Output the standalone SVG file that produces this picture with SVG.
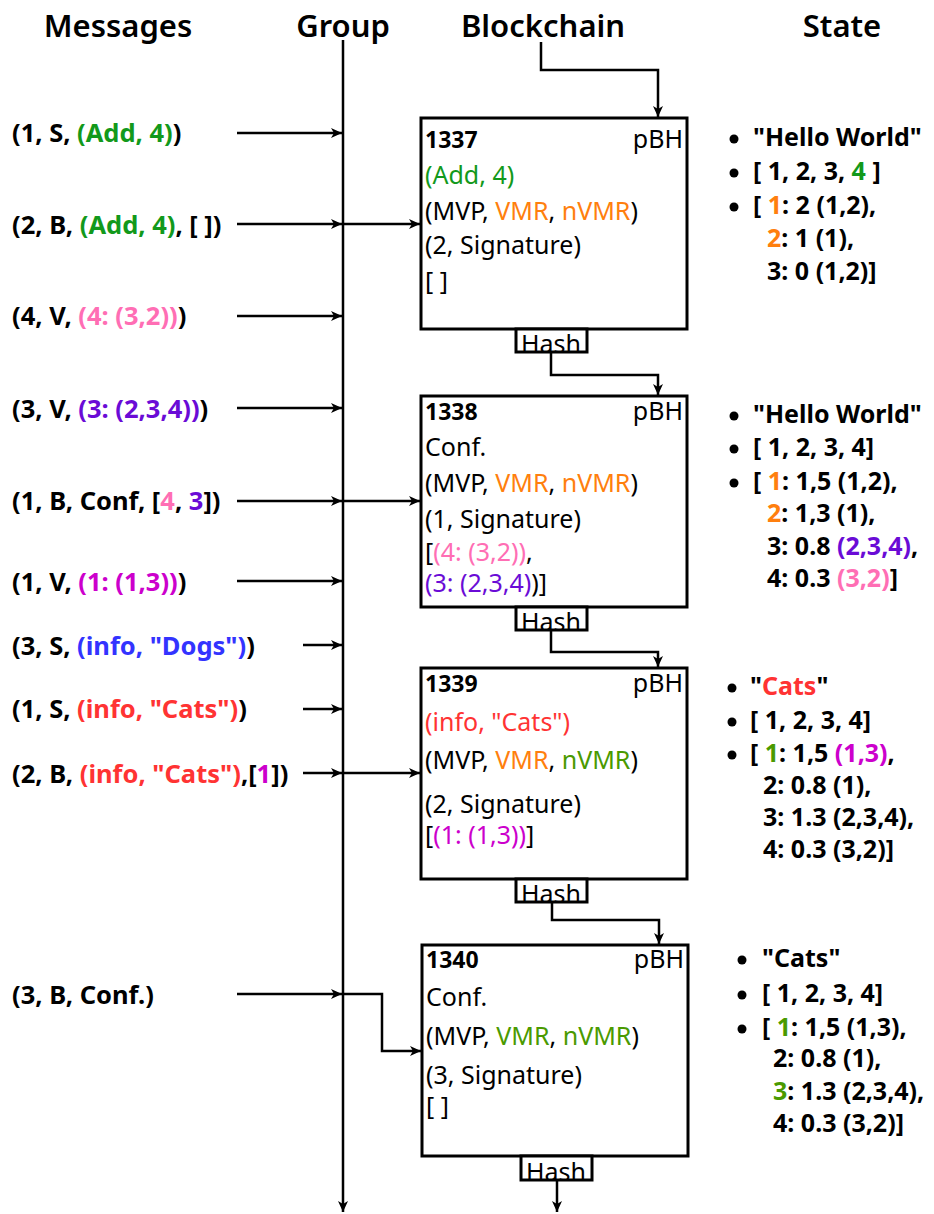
<svg xmlns="http://www.w3.org/2000/svg" width="934" height="1214" viewBox="0 0 934 1214">
<defs>
<marker id="ah" markerUnits="userSpaceOnUse" markerWidth="12" markerHeight="10" refX="11" refY="5" orient="auto">
<path d="M0,0 L11,5 L0,10 L3,5 z" fill="#000"/>
</marker>
<style>
text{font-family:"Noto Sans","Open Sans","DejaVu Sans",sans-serif;fill:#000}
.hd{font-size:31px;font-weight:600}
.msg{font-size:25.5px;font-weight:700}
.bx{font-size:25px}
.num{font-size:23px;font-weight:700}
.st{font-size:25px;font-weight:700}
.hash{font-size:25px}
.box{fill:#fff;stroke:#000;stroke-width:3}
.con{fill:none;stroke:#000;stroke-width:2.5}
.g{fill:#12991b}.o{fill:#ff7f0e}.pk{fill:#ff6eb4}.pu{fill:#6a0bd6}.mg{fill:#cc00cc}.bl{fill:#3333ff}.rd{fill:#ff3333}.lg{fill:#4a9a00}
</style>
</defs>
<rect width="934" height="1214" fill="#fff"/>
<g id="headers">
<text class="hd" x="118" y="37" text-anchor="middle">Messages</text>
<text class="hd" x="343" y="37" text-anchor="middle">Group</text>
<text class="hd" x="543" y="37" text-anchor="middle">Blockchain</text>
<text class="hd" x="842" y="37" text-anchor="middle">State</text>
</g>
<g id="connectors">
<path class="con" d="M343,40 V1212" marker-end="url(#ah)"/>
<path class="con" d="M541,42 V70 H658 V117" marker-end="url(#ah)"/>
<path class="con" d="M237,133 H342" marker-end="url(#ah)"/>
<path class="con" d="M237,224 H342" marker-end="url(#ah)"/>
<path class="con" d="M343,224 H420" marker-end="url(#ah)"/>
<path class="con" d="M237,316 H342" marker-end="url(#ah)"/>
<path class="con" d="M237,408 H342" marker-end="url(#ah)"/>
<path class="con" d="M237,501 H342" marker-end="url(#ah)"/>
<path class="con" d="M343,501 H420" marker-end="url(#ah)"/>
<path class="con" d="M237,581 H342" marker-end="url(#ah)"/>
<path class="con" d="M303,645 H342" marker-end="url(#ah)"/>
<path class="con" d="M303,709 H342" marker-end="url(#ah)"/>
<path class="con" d="M303,773 H342" marker-end="url(#ah)"/>
<path class="con" d="M343,773 H420" marker-end="url(#ah)"/>
<path class="con" d="M237,994 H342" marker-end="url(#ah)"/>
<path class="con" d="M343,994 H382 V1051 H421" marker-end="url(#ah)"/>
<path class="con" d="M551,352 V375 H658 V395" marker-end="url(#ah)"/>
<path class="con" d="M551,630 V652 H658 V667" marker-end="url(#ah)"/>
<path class="con" d="M552,902 V920 H659 V944" marker-end="url(#ah)"/>
<path class="con" d="M557,1180 V1212" marker-end="url(#ah)"/>
</g>
<g id="messages">
<text class="msg" x="12" y="142">(1, S, <tspan class="g">(Add, 4)</tspan>)</text>
<text class="msg" x="12" y="234">(2, B, <tspan class="g">(Add, 4)</tspan>, [ ])</text>
<text class="msg" x="12" y="325">(4, V, <tspan class="pk">(4: (3,2))</tspan>)</text>
<text class="msg" x="12" y="418">(3, V, <tspan class="pu">(3: (2,3,4))</tspan>)</text>
<text class="msg" x="12" y="510">(1, B, Conf, [<tspan class="pk">4</tspan>, <tspan class="pu">3</tspan>])</text>
<text class="msg" x="12" y="591">(1, V, <tspan class="mg">(1: (1,3))</tspan>)</text>
<text class="msg" x="12" y="655">(3, S, <tspan class="bl">(info, "Dogs")</tspan>)</text>
<text class="msg" x="12" y="718">(1, S, <tspan class="rd">(info, "Cats")</tspan>)</text>
<text class="msg" x="12" y="783">(2, B, <tspan class="rd">(info, "Cats")</tspan>,[<tspan class="mg">1</tspan>])</text>
<text class="msg" x="12" y="1004">(3, B, Conf.)</text>
</g>
<g id="block1337">
<rect class="box" x="421" y="118" width="266" height="211"/>
<text class="num" x="425" y="148">1337</text>
<text class="bx" x="683" y="148" text-anchor="end">pBH</text>
<text class="bx g" x="425" y="184">(Add, 4)</text>
<text class="bx" x="425" y="220">(MVP, <tspan class="o">VMR</tspan>, <tspan class="o">nVMR</tspan>)</text>
<text class="bx" x="425" y="254">(2, Signature)</text>
<text class="bx" x="425" y="290">[ ]</text>
<rect class="box" x="516" y="329" width="71" height="23"/>
<text class="hash" x="551" y="353" text-anchor="middle">Hash</text>
</g>
<g id="block1338">
<rect class="box" x="421" y="396" width="266" height="211"/>
<text class="num" x="425" y="420">1338</text>
<text class="bx" x="683" y="420" text-anchor="end">pBH</text>
<text class="bx" x="425" y="456">Conf.</text>
<text class="bx" x="425" y="492">(MVP, <tspan class="o">VMR</tspan>, <tspan class="o">nVMR</tspan>)</text>
<text class="bx" x="425" y="528">(1, Signature)</text>
<text class="bx" x="425" y="561">[<tspan class="pk">(4: (3,2))</tspan>,</text>
<text class="bx" x="425" y="592"><tspan class="pu">(3: (2,3,4)</tspan>)]</text>
<rect class="box" x="516" y="607" width="71" height="23"/>
<text class="hash" x="551" y="631" text-anchor="middle">Hash</text>
</g>
<g id="block1339">
<rect class="box" x="421" y="668" width="266" height="211"/>
<text class="num" x="425" y="692">1339</text>
<text class="bx" x="683" y="692" text-anchor="end">pBH</text>
<text class="bx rd" x="425" y="731">(info, "Cats")</text>
<text class="bx" x="425" y="769">(MVP, <tspan class="o">VMR</tspan>, <tspan class="lg">nVMR</tspan>)</text>
<text class="bx" x="425" y="813">(2, Signature)</text>
<text class="bx" x="425" y="844">[<tspan class="mg">(1: (1,3))</tspan>]</text>
<rect class="box" x="516" y="879" width="71" height="23"/>
<text class="hash" x="551" y="903" text-anchor="middle">Hash</text>
</g>
<g id="block1340">
<rect class="box" x="422" y="945" width="266" height="211"/>
<text class="num" x="426" y="968">1340</text>
<text class="bx" x="684" y="968" text-anchor="end">pBH</text>
<text class="bx" x="426" y="1006">Conf.</text>
<text class="bx" x="426" y="1045">(MVP, <tspan class="lg">VMR</tspan>, <tspan class="lg">nVMR</tspan>)</text>
<text class="bx" x="426" y="1084">(3, Signature)</text>
<text class="bx" x="426" y="1115">[ ]</text>
<rect class="box" x="521" y="1156" width="71" height="24"/>
<text class="hash" x="556" y="1181" text-anchor="middle">Hash</text>
</g>
<g id="state1">
<circle cx="734" cy="139" r="4.5"/><text class="st" x="753" y="146">"Hello World"</text>
<circle cx="734" cy="173" r="4.5"/><text class="st" x="753" y="180">[ 1, 2, 3, <tspan class="g">4</tspan> ]</text>
<circle cx="734" cy="207" r="4.5"/><text class="st" x="753" y="214">[ <tspan class="o">1</tspan>: 2 (1,2),</text>
<text class="st" x="767" y="247"><tspan class="o">2</tspan>: 1 (1),</text>
<text class="st" x="767" y="280">3: 0 (1,2)]</text>
</g>
<g id="state2">
<circle cx="734" cy="416" r="4.5"/><text class="st" x="753" y="423">"Hello World"</text>
<circle cx="734" cy="449" r="4.5"/><text class="st" x="753" y="456">[ 1, 2, 3, 4]</text>
<circle cx="734" cy="483" r="4.5"/><text class="st" x="753" y="490">[ <tspan class="o">1</tspan>: 1,5 (1,2),</text>
<text class="st" x="767" y="522"><tspan class="o">2</tspan>: 1,3 (1),</text>
<text class="st" x="767" y="555">3: 0.8 <tspan class="pu">(2,3,4)</tspan>,</text>
<text class="st" x="767" y="587">4: 0.3 <tspan class="pk">(3,2)</tspan>]</text>
</g>
<g id="state3">
<circle cx="732" cy="688" r="4.5"/><text class="st" x="750" y="695">"<tspan class="rd">Cats</tspan>"</text>
<circle cx="732" cy="722" r="4.5"/><text class="st" x="750" y="729">[ 1, 2, 3, 4]</text>
<circle cx="732" cy="755" r="4.5"/><text class="st" x="750" y="762">[ <tspan class="lg">1</tspan>: 1,5 <tspan class="mg">(1,3)</tspan>,</text>
<text class="st" x="763" y="794">2: 0.8 (1),</text>
<text class="st" x="763" y="826">3: 1.3 (2,3,4),</text>
<text class="st" x="763" y="858">4: 0.3 (3,2)]</text>
</g>
<g id="state4">
<circle cx="742" cy="960" r="4.5"/><text class="st" x="762" y="967">"Cats"</text>
<circle cx="742" cy="995" r="4.5"/><text class="st" x="762" y="1002">[ 1, 2, 3, 4]</text>
<circle cx="742" cy="1029" r="4.5"/><text class="st" x="762" y="1036">[ <tspan class="lg">1</tspan>: 1,5 (1,3),</text>
<text class="st" x="773" y="1067">2: 0.8 (1),</text>
<text class="st" x="773" y="1100"><tspan class="lg">3</tspan>: 1.3 (2,3,4),</text>
<text class="st" x="773" y="1132">4: 0.3 (3,2)]</text>
</g>
</svg>
